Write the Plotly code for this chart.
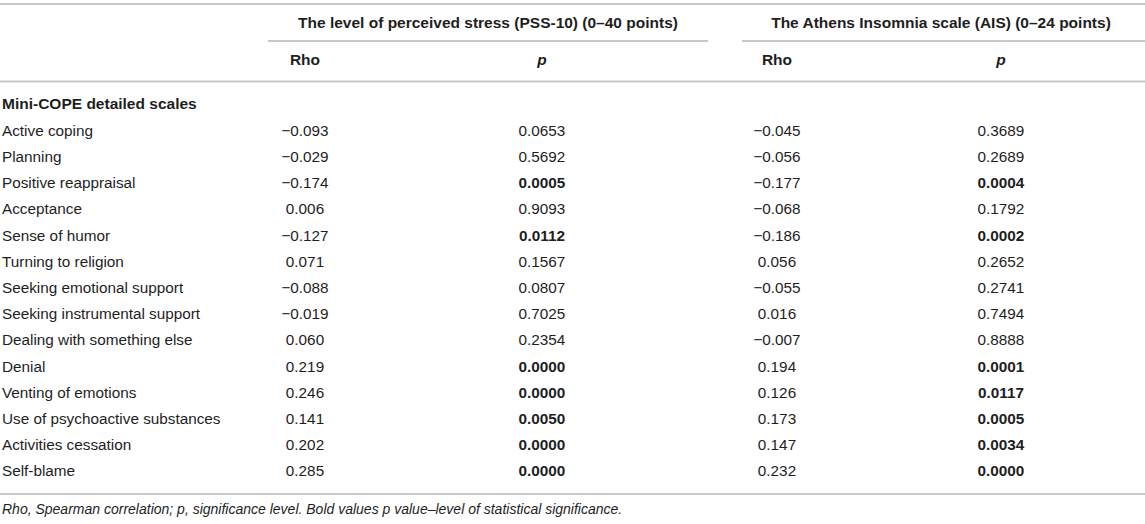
import plotly.graph_objects as go

# table content
scales = [
    "Active coping", "Planning", "Positive reappraisal", "Acceptance",
    "Sense of humor", "Turning to religion", "Seeking emotional support",
    "Seeking instrumental support", "Dealing with something else", "Denial",
    "Venting of emotions", "Use of psychoactive substances",
    "Activities cessation", "Self-blame",
]
rho_pss = [-0.093, -0.029, -0.174, 0.006, -0.127, 0.071, -0.088,
           -0.019, 0.060, 0.219, 0.246, 0.141, 0.202, 0.285]
p_pss = ["0.0653", "0.5692", "0.0005", "0.9093", "0.0112", "0.1567", "0.0807",
         "0.7025", "0.2354", "0.0000", "0.0000", "0.0050", "0.0000", "0.0000"]
rho_ais = [-0.045, -0.056, -0.177, -0.068, -0.186, 0.056, -0.055,
           0.016, -0.007, 0.194, 0.126, 0.173, 0.147, 0.232]
p_ais = ["0.3689", "0.2689", "0.0004", "0.1792", "0.0002", "0.2652", "0.2741",
         "0.7494", "0.8888", "0.0001", "0.0117", "0.0005", "0.0034", "0.0000"]

group_titles = ["The level of perceived stress (PSS-10) (0\u201340 points)",
                "The Athens Insomnia scale (AIS) (0\u201324 points)"]
sub_titles = ["<b>Rho</b>", "<b><i>p</i></b>", "<b>Rho</b>", "<b><i>p</i></b>"]
section_title = "Mini-COPE detailed scales"
footnote = ("Rho, Spearman correlation; p, significance level. "
            "Bold values p value\u2013level of statistical significance.")

W, H = 1145, 524
FONT = "Liberation Sans, Arial, sans-serif"
TXT = "#1e1e1e"
LINE = "#c9c9c9"
BODY = 15.3
BOLD = 15.5

# layout (pixel space, y grows downward)
X_LABEL = 2
COL_X = [305, 542, 777, 1001]
GROUP_X = [488, 941]
Y_GROUP, Y_SUB, Y_SECTION, Y_NOTE = 24, 61, 105, 510
ROW0, STEP = 132, 26.2
row_y = [ROW0 + i * STEP for i in range(len(scales))]


def fmt_rho(v):
    return f"{v:.3f}".replace("-", "\u2212")


def fmt_p(s):
    return f"<b>{s}</b>" if float(s) < 0.05 else s


fig = go.Figure()


def add_text(xs, ys, texts, size=BODY, pos="middle center"):
    fig.add_trace(go.Scatter(
        x=xs, y=ys, text=texts, mode="text", textposition=pos,
        textfont=dict(family=FONT, size=size, color=TXT),
        hoverinfo="skip", showlegend=False,
    ))


n = len(scales)
add_text([X_LABEL] * n, row_y, scales, pos="middle right")
columns = [[fmt_rho(v) for v in rho_pss], [fmt_p(s) for s in p_pss],
           [fmt_rho(v) for v in rho_ais], [fmt_p(s) for s in p_ais]]
for cx, col in zip(COL_X, columns):
    add_text([cx] * n, row_y, col)

add_text([X_LABEL], [Y_SECTION], [f"<b>{section_title}</b>"], size=BOLD,
         pos="middle right")
add_text(GROUP_X, [Y_GROUP] * 2, [f"<b>{t}</b>" for t in group_titles],
         size=BOLD)
add_text(COL_X, [Y_SUB] * 4, sub_titles, size=BOLD)
add_text([X_LABEL], [Y_NOTE], [f"<i>{footnote}</i>"], size=14,
         pos="middle right")

rules = [(0, W, 4), (268, 708, 41), (742, W, 41), (0, W, 81.5), (0, W, 494)]
for x0, x1, y in rules:
    fig.add_shape(type="line", x0=x0, x1=x1, y0=y, y1=y, xref="x", yref="y",
                  line=dict(color=LINE, width=2))

fig.update_layout(
    width=W, height=H,
    margin=dict(l=0, r=0, t=0, b=0),
    paper_bgcolor="white", plot_bgcolor="white",
    xaxis=dict(range=[0, W], visible=False, fixedrange=True),
    yaxis=dict(range=[H, 0], visible=False, fixedrange=True),
)

fig.write_html("out.html", config={"displayModeBar": False},
               post_script="document.body.style.margin = '0';")
